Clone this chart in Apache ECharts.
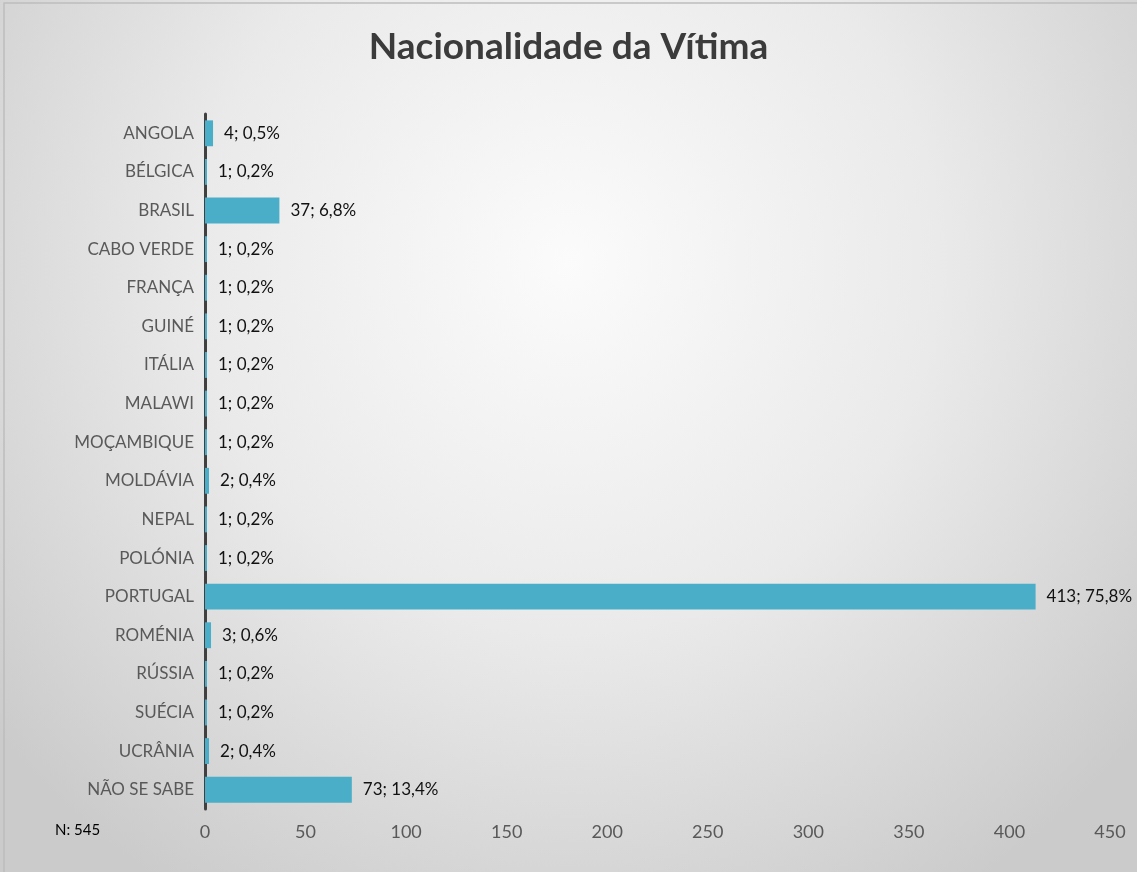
<!DOCTYPE html>
<html>
<head>
<meta charset="utf-8">
<script src="https://cdn.jsdelivr.net/npm/echarts@6/dist/echarts.min.js"></script>
<style>
  html, body { margin: 0; padding: 0; }
  #chart { width: 1137px; height: 872px; }
</style>
</head>
<body>
<div id="chart"></div>
<script>
const categories = ['ANGOLA', 'BÉLGICA', 'BRASIL', 'CABO VERDE', 'FRANÇA', 'GUINÉ', 'ITÁLIA', 'MALAWI',
  'MOÇAMBIQUE', 'MOLDÁVIA', 'NEPAL', 'POLÓNIA', 'PORTUGAL', 'ROMÉNIA', 'RÚSSIA', 'SUÉCIA', 'UCRÂNIA', 'NÃO SE SABE']
const counts = [4, 1, 37, 1, 1, 1, 1, 1, 1, 2, 1, 1, 413, 3, 1, 1, 2, 73]
const percents = ['0,5%', '0,2%', '6,8%', '0,2%', '0,2%', '0,2%', '0,2%', '0,2%', '0,2%', '0,4%',
  '0,2%', '0,2%', '75,8%', '0,6%', '0,2%', '0,2%', '0,4%', '13,4%']
const xTicks = [0, 50, 100, 150, 200, 250, 300, 350, 400, 450]

let chart = echarts.init(document.getElementById('chart'))
chart.setOption({
    backgroundColor: {
        type: 'radial', x: 0.5, y: 0.3, r: 0.85,
        colorStops: [
            { offset: 0, color: '#fbfbfb' },
            { offset: 0.5, color: '#eaeaea' },
            { offset: 1, color: '#cbcbcb' }
        ]
    },
    title: {
        text: 'Nacionalidade da Vítima',
        left: 'center',
        top: 24,
        textStyle: {
            fontFamily: 'Lato',
            fontWeight: 'bold',
            fontSize: 37,
            color: '#3b3b3b'
        }
    },
    graphic: [{
        type: 'rect',
        shape: { x: 4, y: 3, width: 1140, height: 880 },
        style: { fill: 'none', stroke: '#bdbdbd', lineWidth: 1.5 }
    }, {
        type: 'text',
        left: 55,
        top: 823,
        style: { text: 'N: 545', font: '15px Lato', fill: '#000' }
    }],
    grid: {
        left: 205,
        right: 27,
        top: 114,
        bottom: 63
    },
    xAxis: {
        type: 'value',
        min: xTicks[0],
        max: xTicks[xTicks.length - 1],
        interval: 50,
        splitLine: { show: false },
        axisLine: { show: false },
        axisTick: { show: false },
        axisLabel: {
            margin: 14,
            fontFamily: 'Lato',
            fontSize: 18,
            color: '#595959'
        }
    },
    yAxis: {
        type: 'category',
        inverse: true,
        data: categories,
        axisTick: { show: false },
        axisLine: {
            show: true,
            lineStyle: { color: '#404040', width: 3 }
        },
        axisLabel: {
            margin: 11,
            fontFamily: 'Lato',
            fontSize: 17,
            color: '#595959'
        }
    },
    series: [{
        type: 'bar',
        data: counts,
        barCategoryGap: '33%',
        itemStyle: { color: '#4aaec8' },
        label: {
            show: true,
            position: 'right',
            distance: 11,
            fontFamily: 'Lato',
            fontSize: 17,
            color: '#111',
            formatter: p => p.value + '; ' + percents[p.dataIndex]
        }
    }]
})
</script>
</body>
</html>
